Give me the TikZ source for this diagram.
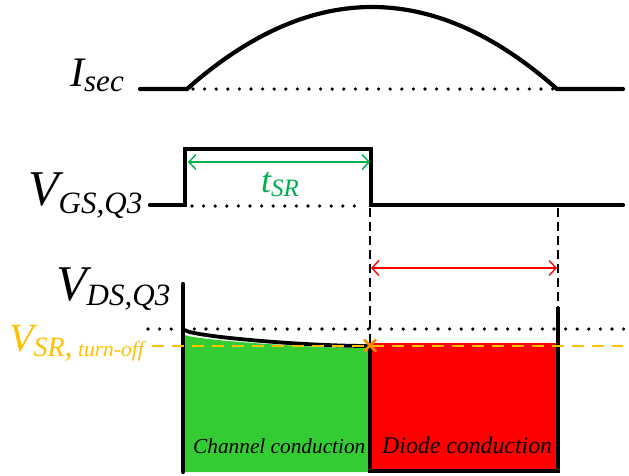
\documentclass[tikz,border=0pt]{standalone}
\usepackage{fontspec}
\setmainfont{Liberation Serif}
\usetikzlibrary{arrows.meta}
\definecolor{sgreen}{RGB}{51,204,51}
\definecolor{agreen}{RGB}{0,176,80}
\definecolor{vorange}{RGB}{255,192,0}
\definecolor{xorange}{RGB}{255,140,0}
\newcommand{\fs}[1]{\fontsize{#1}{#1}\selectfont}
\begin{document}
\begin{tikzpicture}[x=1pt,y=-1pt,
  wave/.style={line width=4.2pt, line cap=round, line join=miter},
  dots/.style={line width=3.6pt, line cap=round, dash pattern=on 0pt off 11.6pt},
  guide/.style={line width=1.5pt, dash pattern=on 9pt off 5pt},
  lbl/.style={inner sep=0pt, anchor=base west, font=\itshape},
  barbs/.style={{Straight Barb[length=7pt,width=15pt]}-{Straight Barb[length=7pt,width=15pt]}, line width=1.4pt},
]
\useasboundingbox (0,0) rectangle (629,475);
% ---------- I_sec ----------
\coordinate (i0) at (140,89);
\coordinate (i1) at (187,89);
\coordinate (i3) at (623,89);
\draw[dots] (193,89) -- (553,89);
\draw[wave] (i0) -- (i1) -- plot[domain=187:557, samples=80] (\x, {89-82*(1-((\x-372)/185)^2)}) -- (i3);
\node[lbl] (lisec) at (70,86) {\fs{42}I\raisebox{-5pt}{\fs{31}sec}};
% ---------- V_GS ----------
\draw[wave] (150,205) -- (185,205) -- (185,149) -- (371,149) -- (371,205) -- (623,205);
\draw[dots] (192,206) -- (365,206);
\coordinate (ta) at (188,162);
\coordinate (tb) at (370,162);
\draw[agreen, barbs] (ta) -- (tb);
\node[lbl, text=agreen] (ltsr) at (261,192) {\fs{36}t\raisebox{-4pt}{\fs{25}SR}};
\node[lbl] (lvgs) at (28,205) {\fs{50}V\raisebox{-8pt}{\fs{31}GS,Q3}};
% ---------- guides ----------
\coordinate (g1a) at (370,208);
\coordinate (g1b) at (370,344);
\coordinate (g2a) at (558,208);
\coordinate (g2b) at (558,307);
\draw[guide] (g1a) -- (g1b);
\draw[guide] (g2a) -- (g2b);
\coordinate (ra) at (371,268);
\coordinate (rb) at (557,268);
\draw[red, barbs] (ra) -- (rb);
% ---------- V_DS ----------
\draw[dots] (148,329) -- (629,329);
\fill[sgreen] (185,335) .. controls (190,339) and (300,348) .. (370,348) -- (370,472) -- (185,472) -- cycle;
\fill[red] (370,343) rectangle (558,471);
\draw[line width=3.8pt, line cap=round] (185,330) .. controls (190,336) and (300,346) .. (370,346);
\draw[line width=4.4pt, line cap=round] (183,284) -- (183,472);
\draw[line width=4.4pt, line join=miter] (370,346) -- (370,471) -- (558,471) -- (558,307);
\draw[vorange, line width=2.2pt, dash pattern=on 12pt off 8pt] (152,346) -- (623,346);
\coordinate (xm) at (370,345.5);
\draw[xorange, line width=2.8pt] ([shift={(-6,-6)}]xm) -- ([shift={(6,6)}]xm) ([shift={(-6,6)}]xm) -- ([shift={(6,-6)}]xm);
\node[lbl] (lvds) at (56,300) {\fs{50}V\raisebox{-5pt}{\fs{31}DS,Q3}};
\node[lbl, text=vorange] (lvsr) at (9,351) {\fs{40}V\raisebox{-5pt}{\fs{28}SR\fs{32},\,\fs{21.5}turn-off}};
\node[lbl] (lch) at (193,453) {\fs{21.3}Channel conduction};
\node[lbl] (ldi) at (382,453) {\fs{23.8}Diode conduction};
\end{tikzpicture}
\end{document}
